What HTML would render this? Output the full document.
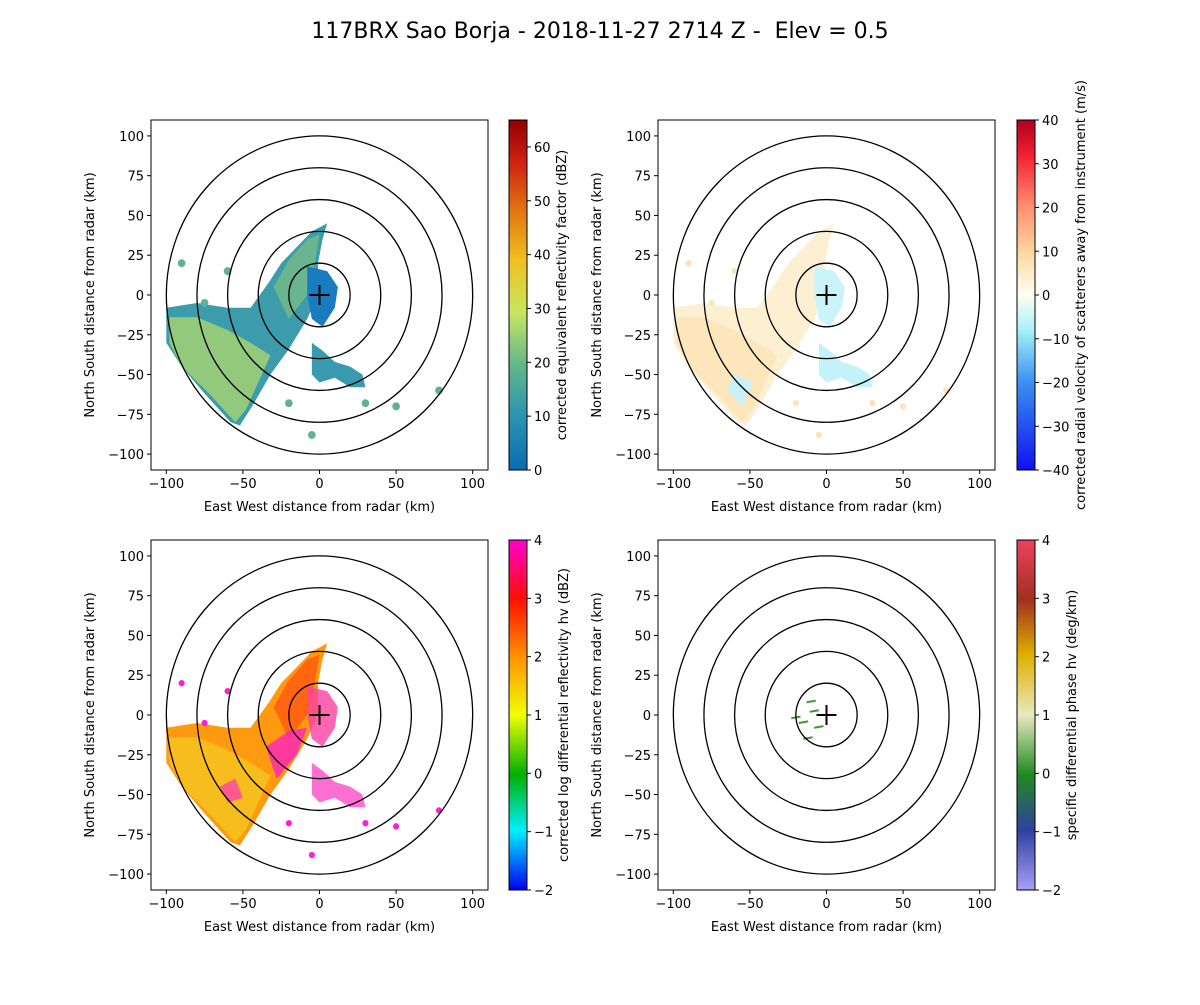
<!DOCTYPE html>
<html><head><meta charset="utf-8"><style>
body{margin:0;background:#fff}
svg text{font-family:"DejaVu Sans","Liberation Sans",sans-serif;fill:#000}
</style></head><body>
<svg id="fig" width="1200" height="1000" xmlns="http://www.w3.org/2000/svg">
<defs>
<linearGradient id="g1" x1="0" y1="1" x2="0" y2="0">
<stop offset="0" stop-color="#0a6cb0"/><stop offset="0.15" stop-color="#2a93b0"/><stop offset="0.3" stop-color="#60b88a"/><stop offset="0.45" stop-color="#c8e660"/><stop offset="0.6" stop-color="#f0c020"/><stop offset="0.75" stop-color="#e07010"/><stop offset="0.88" stop-color="#d02010"/><stop offset="1" stop-color="#900000"/></linearGradient>
<linearGradient id="g2" x1="0" y1="1" x2="0" y2="0">
<stop offset="0" stop-color="#1010f0"/><stop offset="0.25" stop-color="#3a90f0"/><stop offset="0.4" stop-color="#a8f0f8"/><stop offset="0.5" stop-color="#fffff0"/><stop offset="0.62" stop-color="#fcd8a0"/><stop offset="0.75" stop-color="#ff9070"/><stop offset="0.9" stop-color="#f02030"/><stop offset="1" stop-color="#b00020"/></linearGradient>
<linearGradient id="g3" x1="0" y1="1" x2="0" y2="0">
<stop offset="0" stop-color="#0000f0"/><stop offset="0.17" stop-color="#00f0ff"/><stop offset="0.33" stop-color="#00b000"/><stop offset="0.5" stop-color="#f0ff00"/><stop offset="0.67" stop-color="#ff9000"/><stop offset="0.83" stop-color="#ff1000"/><stop offset="1" stop-color="#ff00d0"/></linearGradient>
<linearGradient id="g4" x1="0" y1="1" x2="0" y2="0">
<stop offset="0" stop-color="#a8a0f8"/><stop offset="0.17" stop-color="#3040a0"/><stop offset="0.33" stop-color="#208a20"/><stop offset="0.5" stop-color="#e8e8c0"/><stop offset="0.67" stop-color="#e0b000"/><stop offset="0.83" stop-color="#a03020"/><stop offset="1" stop-color="#f04060"/></linearGradient>
</defs>
<text x="600" y="38" font-size="22" text-anchor="middle" style="white-space:pre">117BRX Sao Borja - 2018-11-27 2714 Z -  Elev = 0.5</text>
<g id="root"></g>
</svg>
<script>
// Echo region outlines (km east, km north)
const mainBand = [[-100,-8],[-80,-5],[-60,-8],[-45,-8],[-33,8],[-25,20],[-15,30],[-5,40],[5,45],[2,35],[-1,20],[-1,0],[-8,-15],[-20,-34],[-32,-50],[-44,-70],[-52,-82],[-58,-80],[-75,-62],[-90,-45],[-100,-30]];
const swCore = [[-98,-14],[-80,-14],[-60,-22],[-45,-30],[-32,-38],[-40,-55],[-48,-72],[-55,-80],[-72,-62],[-90,-45],[-98,-30]];
const neCore = [[-30,5],[-20,22],[-8,35],[0,38],[-3,20],[-8,0],[-20,-15]];
const seBlob = [[-5,-30],[2,-35],[10,-42],[20,-45],[28,-50],[30,-58],[20,-58],[10,-52],[0,-55],[-5,-50]];
const nearRadar = [[-8,18],[5,15],[12,5],[10,-8],[2,-20],[-5,-15],[-8,0]];
const smallBlobs = [[-90,20],[-60,15],[-75,-5],[-5,-88],[50,-70],[30,-68],[-20,-68],[78,-60]];
const kdpLines = [[-20,-2],[-8,2],[-15,-5],[-5,-8],[-10,8],[-12,-15]];
const cbTicks = [[0,10,20,30,40,50,60],[-40,-30,-20,-10,0,10,20,30,40],[-2,-1,0,1,2,3,4],[-2,-1,0,1,2,3,4]];
const cbRange = [[0,65],[-40,40],[-2,4],[-2,4]];
const cbLabels = ["corrected equivalent reflectivity factor (dBZ)","corrected radial velocity of scatterers away from instrument (m/s)","corrected log differential reflectivity hv (dBZ)","specific differential phase hv (deg/km)"];
const axTicks = [-100,-50,0,50,100];
const yTicks = [-100,-75,-50,-25,0,25,50,75,100];
const rings = [20,40,60,80,100];

const NS="http://www.w3.org/2000/svg";
const root=document.getElementById('root');
function mk(tag,attrs,parent){const e=document.createElementNS(NS,tag);for(const k in attrs)e.setAttribute(k,attrs[k]);(parent||root).appendChild(e);return e;}
const panels=[{x0:151,y0:120,cb:509,lo:57},{x0:658,y0:120,cb:1017,lo:68},{x0:151,y0:540,cb:509,lo:59},{x0:658,y0:540,cb:1017,lo:59}];
panels.forEach((p,i)=>{
  const W=337,H=350;
  const sx=v=>p.x0+(v+110)/220*W, sy=v=>p.y0+(110-v)/220*H;
  const g=mk('g',{});
  
  
  const poly=(pts,fill,op,name)=>{const e=mk('polygon',{points:pts.map(q=>sx(q[0])+','+sy(q[1])).join(' '),fill:fill,'fill-opacity':op},g);
    };
  const blob=(q,r,fill,name)=>{const e=mk('ellipse',{cx:sx(q[0]),cy:sy(q[1]),rx:r*W/220,ry:r*H/220,fill:fill},g);
    };
  if(i===0){poly(mainBand,'#3c9cac',1,'echo-main');poly(swCore,'#a8d470',0.8,'echo-sw-core');poly(neCore,'#88c47c',0.6,'echo-ne-core');
    poly(seBlob,'#3a9ab0',1,'echo-se');poly(nearRadar,'#1a7cc0',1,'echo-near-radar');smallBlobs.forEach(b=>blob(b,2.5,'#60b098','echo-cell'));}
  if(i===1){poly(mainBand,'#fdefd2',1,'vel-main');poly(swCore,'#fde6bc',1,'vel-sw');poly(nearRadar,'#c8f4fa',1,'vel-near');
    poly(seBlob,'#c4f2fa',1,'vel-se');poly([[-60,-50],[-48,-55],[-55,-70],[-65,-60]],'#c8f2f8',1,'vel-sw-cyan');smallBlobs.forEach(b=>blob(b,2,'#fde4b8','vel-cell'));}
  if(i===2){poly(mainBand,'#ff9a10',1,'zdr-main');poly(swCore,'#f4c820',0.75,'zdr-sw');poly(neCore,'#ff5010',0.7,'zdr-ne');
    poly([[-35,-20],[-20,-10],[-8,-8],[-15,-25],[-28,-40]],'#ff20c0',0.8,'zdr-magenta');poly([[-65,-45],[-55,-40],[-50,-52],[-60,-55]],'#ff30c0',0.7,'zdr-magenta-sw');
    poly(seBlob,'#ff30c0',0.7,'zdr-se');poly(nearRadar,'#ff40a0',0.8,'zdr-near');
    smallBlobs.forEach(b=>blob(b,2,'#ff20d0','zdr-cell'));}
  if(i===3){kdpLines.forEach(q=>{const e=mk('line',{x1:sx(q[0]-3),y1:sy(q[1]),x2:sx(q[0]+3),y2:sy(q[1]+1),stroke:'#3a9a30','stroke-width':2},g);
    });}
  rings.forEach(r=>{const e=mk('ellipse',{cx:sx(0),cy:sy(0),rx:r*W/220,ry:r*H/220,fill:'none',stroke:'#000','stroke-width':1.3},g);
    });
  const c1=mk('path',{d:`M${sx(0)-10},${sy(0)}h20M${sx(0)},${sy(0)-10}v20`,stroke:'#000','stroke-width':2},g);
  
  const fr=mk('rect',{x:p.x0,y:p.y0,width:W,height:H,fill:'none',stroke:'#000','stroke-width':1},g);
  
  axTicks.forEach(t=>{mk('line',{x1:sx(t),y1:p.y0+H,x2:sx(t),y2:p.y0+H+4,stroke:'#000'},g);
    const tx=mk('text',{x:sx(t),y:p.y0+H+18,'font-size':13,'text-anchor':'middle'},g);tx.textContent=t===0?'0':(t<0?'\u2212'+(-t):t);
    });
  yTicks.forEach(t=>{mk('line',{x1:p.x0-4,y1:sy(t),x2:p.x0,y2:sy(t),stroke:'#000'},g);
    const tx=mk('text',{x:p.x0-7,y:sy(t)+5,'font-size':13,'text-anchor':'end'},g);tx.textContent=t<0?'\u2212'+(-t):t;
    });
  const xl=mk('text',{x:p.x0+W/2,y:p.y0+H+41,'font-size':13,'text-anchor':'middle'},g);xl.textContent='East West distance from radar (km)';
  
  const yl=mk('text',{x:0,y:0,'font-size':13,'text-anchor':'middle',transform:`translate(${p.x0-57},${p.y0+H/2}) rotate(-90)`},g);yl.textContent='North South distance from radar (km)';
  
  const [lo,hi]=cbRange[i];const cy=v=>p.y0+H-(v-lo)/(hi-lo)*H;
  const cb=mk('rect',{x:p.cb,y:p.y0,width:18,height:H,fill:`url(#g${i+1})`,stroke:'#000','stroke-width':1},g);
  
  cbTicks[i].forEach(t=>{mk('line',{x1:p.cb+18,y1:cy(t),x2:p.cb+22,y2:cy(t),stroke:'#000'},g);
    const tx=mk('text',{x:p.cb+25,y:cy(t)+5,'font-size':13},g);tx.textContent=t<0?'\u2212'+(-t):t;
    });
  const cl=mk('text',{x:0,y:0,'font-size':13,'text-anchor':'middle',transform:`translate(${p.cb+p.lo},${p.y0+H/2}) rotate(-90)`},g);cl.textContent=cbLabels[i];
  
});
</script>
</body></html>
